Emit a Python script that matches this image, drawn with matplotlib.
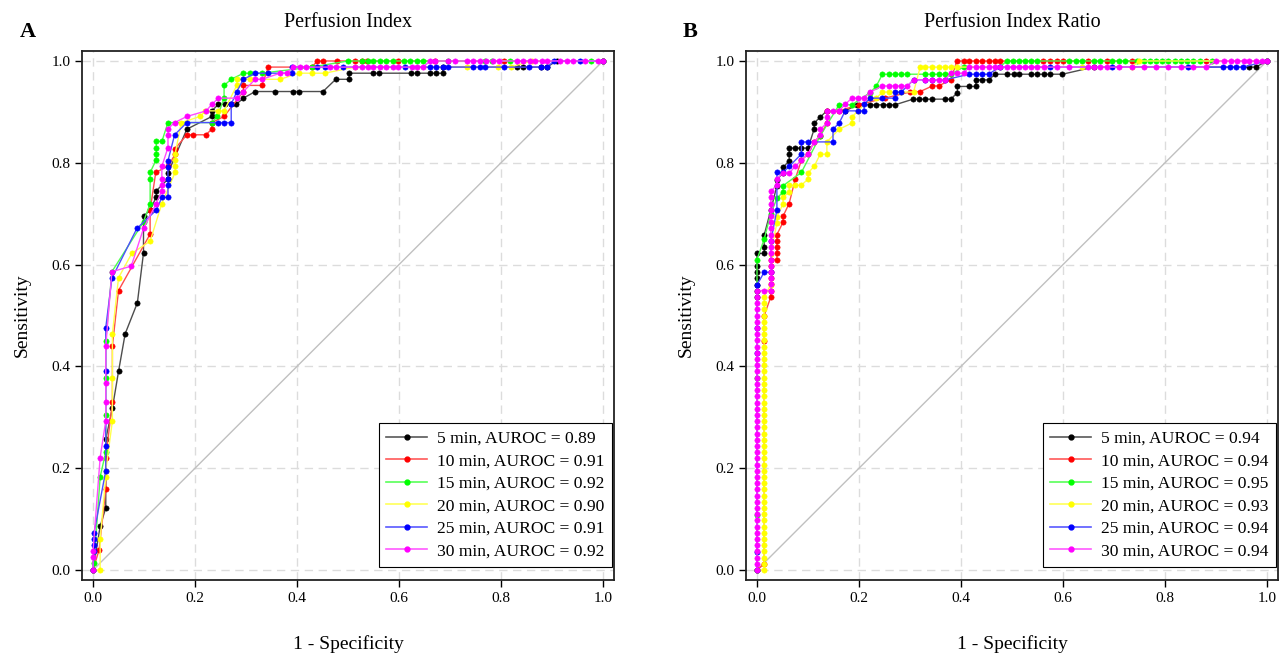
import matplotlib
matplotlib.use("Agg")
import matplotlib.pyplot as plt
from matplotlib.lines import Line2D
from matplotlib.colors import to_rgb

plt.rcParams['font.family'] = ['Liberation Serif', 'DejaVu Serif']

# ---------------- data: panel A (Perfusion Index) ----------------
a05 = [(0, 0), (0.014, 0.086), (0.025, 0.122), (0.025, 0.257), (0.038, 0.318), (0.05, 0.39), (0.063, 0.464),
       (0.087, 0.525), (0.099, 0.623), (0.099, 0.695), (0.112, 0.707), (0.124, 0.733), (0.124, 0.745),
       (0.147, 0.768), (0.147, 0.78), (0.184, 0.866), (0.233, 0.891), (0.233, 0.902), (0.246, 0.915),
       (0.258, 0.915), (0.27, 0.915), (0.281, 0.915), (0.295, 0.927), (0.318, 0.94), (0.356, 0.94),
       (0.392, 0.94), (0.403, 0.94), (0.451, 0.94), (0.476, 0.964), (0.502, 0.964), (0.502, 0.976),
       (0.55, 0.976), (0.561, 0.976), (0.624, 0.976), (0.635, 0.976), (0.661, 0.976), (0.672, 0.976),
       (0.686, 0.976), (0.686, 0.988), (0.831, 0.988), (0.843, 0.988), (0.879, 0.988), (0.89, 0.988),
       (0.909, 1.0), (1.0, 1.0)]
a10 = [(0, 0), (0.012, 0.04), (0.025, 0.159), (0.025, 0.22), (0.038, 0.33), (0.038, 0.44), (0.05, 0.549),
       (0.112, 0.66), (0.112, 0.707), (0.123, 0.781), (0.148, 0.794), (0.161, 0.817), (0.161, 0.828),
       (0.184, 0.855), (0.197, 0.855), (0.221, 0.855), (0.233, 0.866), (0.233, 0.879), (0.257, 0.891),
       (0.295, 0.94), (0.295, 0.952), (0.331, 0.952), (0.344, 0.988), (0.429, 0.988), (0.44, 1.0),
       (0.451, 1.0), (0.478, 1.0), (0.514, 1.0), (0.527, 1.0), (0.538, 1.0), (0.599, 1.0), (0.671, 1.0),
       (0.806, 1.0), (1.0, 1.0)]
a15 = [(0, 0), (0.002, 0.013), (0.014, 0.183), (0.025, 0.232), (0.025, 0.305), (0.025, 0.378), (0.025, 0.45),
       (0.037, 0.586), (0.099, 0.684), (0.112, 0.72), (0.112, 0.768), (0.112, 0.781), (0.124, 0.806),
       (0.124, 0.818), (0.124, 0.83), (0.124, 0.842), (0.135, 0.842), (0.147, 0.879), (0.233, 0.879),
       (0.244, 0.891), (0.257, 0.927), (0.257, 0.952), (0.271, 0.964), (0.295, 0.976), (0.307, 0.976),
       (0.331, 0.976), (0.429, 0.988), (0.5, 1.0), (0.527, 1.0), (0.539, 1.0), (0.55, 1.0), (0.562, 1.0),
       (0.575, 1.0), (0.588, 1.0), (0.609, 1.0), (0.622, 1.0), (0.635, 1.0), (0.647, 1.0), (0.697, 1.0),
       (0.769, 1.0), (0.782, 1.0), (0.818, 1.0), (0.976, 1.0), (1.0, 1.0)]
a20 = [(0, 0), (0.014, 0), (0.014, 0.06), (0.025, 0.183), (0.025, 0.195), (0.038, 0.293), (0.038, 0.378),
       (0.038, 0.464), (0.05, 0.574), (0.076, 0.622), (0.112, 0.646), (0.135, 0.72), (0.161, 0.781),
       (0.161, 0.793), (0.161, 0.806), (0.161, 0.817), (0.173, 0.879), (0.21, 0.891), (0.22, 0.902),
       (0.246, 0.902), (0.257, 0.902), (0.282, 0.952), (0.282, 0.964), (0.295, 0.964), (0.307, 0.964),
       (0.367, 0.964), (0.403, 0.976), (0.429, 0.976), (0.454, 0.976), (0.514, 0.988), (0.733, 0.988),
       (0.795, 0.988), (0.819, 0.988), (0.86, 1.0), (1.0, 1.0)]
a25 = [(0, 0), (0.002, 0.037), (0.002, 0.049), (0.002, 0.061), (0.002, 0.073), (0.025, 0.195), (0.025, 0.244),
       (0.025, 0.391), (0.025, 0.476), (0.037, 0.573), (0.086, 0.671), (0.124, 0.707), (0.135, 0.732),
       (0.147, 0.732), (0.147, 0.756), (0.147, 0.768), (0.147, 0.792), (0.147, 0.804), (0.16, 0.855),
       (0.184, 0.879), (0.246, 0.879), (0.257, 0.879), (0.271, 0.879), (0.271, 0.915), (0.282, 0.94),
       (0.295, 0.964), (0.318, 0.976), (0.344, 0.976), (0.391, 0.976), (0.391, 0.988), (0.44, 0.988),
       (0.454, 0.988), (0.49, 0.988), (0.612, 0.988), (0.661, 0.988), (0.673, 0.988), (0.686, 0.988),
       (0.697, 0.988), (0.746, 0.988), (0.758, 0.988), (0.769, 0.988), (0.806, 0.988), (0.855, 0.988),
       (0.879, 0.988), (0.891, 0.988), (0.904, 1.0), (0.954, 1.0), (1.0, 1.0)]
a30 = [(0, 0), (0, 0.025), (0, 0.037), (0.014, 0.221), (0.025, 0.293), (0.025, 0.33), (0.025, 0.367),
       (0.025, 0.44), (0.037, 0.586), (0.075, 0.597), (0.099, 0.671), (0.124, 0.72), (0.135, 0.745),
       (0.135, 0.756), (0.135, 0.768), (0.135, 0.793), (0.147, 0.83), (0.147, 0.855), (0.147, 0.867),
       (0.16, 0.879), (0.184, 0.891), (0.222, 0.902), (0.233, 0.915), (0.246, 0.927), (0.282, 0.927),
       (0.295, 0.94), (0.318, 0.964), (0.331, 0.964), (0.367, 0.976), (0.38, 0.976), (0.392, 0.988),
       (0.406, 0.988), (0.418, 0.988), (0.465, 0.988), (0.476, 0.988), (0.514, 0.988), (0.527, 0.988),
       (0.539, 0.988), (0.55, 0.988), (0.562, 0.988), (0.575, 0.988), (0.588, 0.988), (0.599, 0.988),
       (0.625, 0.988), (0.635, 0.988), (0.647, 0.988), (0.661, 1.0), (0.67, 1.0), (0.697, 1.0), (0.71, 1.0),
       (0.733, 1.0), (0.746, 1.0), (0.759, 1.0), (0.771, 1.0), (0.784, 1.0), (0.797, 1.0), (0.831, 1.0),
       (0.843, 1.0), (0.856, 1.0), (0.867, 1.0), (0.88, 1.0), (0.891, 1.0), (0.916, 1.0), (0.929, 1.0),
       (0.941, 1.0), (0.965, 1.0), (0.99, 1.0), (1.0, 1.0)]

# ---------------- data: panel B (Perfusion Index Ratio) ----------------
b05 = [(0, 0), (0, 0.537), (0, 0.549), (0, 0.56), (0, 0.573), (0, 0.585), (0, 0.597), (0, 0.622),
       (0.014, 0.622), (0.014, 0.634), (0.014, 0.658), (0.027, 0.707), (0.039, 0.755), (0.039, 0.767),
       (0.051, 0.78), (0.051, 0.791), (0.063, 0.804), (0.063, 0.817), (0.063, 0.829), (0.075, 0.829),
       (0.087, 0.829), (0.1, 0.829), (0.112, 0.866), (0.112, 0.878), (0.124, 0.89), (0.137, 0.902),
       (0.173, 0.902), (0.197, 0.914), (0.222, 0.914), (0.234, 0.914), (0.247, 0.914), (0.259, 0.914),
       (0.271, 0.914), (0.306, 0.925), (0.318, 0.925), (0.33, 0.925), (0.344, 0.925), (0.369, 0.925),
       (0.38, 0.925), (0.393, 0.938), (0.393, 0.95), (0.416, 0.95), (0.429, 0.95), (0.429, 0.963),
       (0.442, 0.963), (0.454, 0.963), (0.467, 0.974), (0.49, 0.974), (0.503, 0.974), (0.514, 0.974),
       (0.538, 0.974), (0.55, 0.974), (0.563, 0.974), (0.574, 0.974), (0.599, 0.974), (0.66, 0.988),
       (0.965, 0.988), (0.978, 0.988), (1.0, 1.0)]
b10 = [(0, 0), (0.014, 0.012), (0.014, 0.45), (0.014, 0.5), (0.027, 0.536), (0.027, 0.549), (0.027, 0.561),
       (0.027, 0.573), (0.027, 0.585), (0.027, 0.598), (0.027, 0.61), (0.039, 0.61), (0.039, 0.622),
       (0.039, 0.634), (0.039, 0.646), (0.039, 0.659), (0.051, 0.683), (0.051, 0.695), (0.063, 0.72),
       (0.075, 0.768), (0.087, 0.805), (0.1, 0.817), (0.112, 0.841), (0.124, 0.853), (0.137, 0.878),
       (0.137, 0.902), (0.161, 0.902), (0.2, 0.914), (0.25, 0.927), (0.3, 0.939), (0.32, 0.94),
       (0.344, 0.951), (0.356, 0.951), (0.38, 0.963), (0.392, 1.0), (0.405, 1.0), (0.416, 1.0), (0.429, 1.0),
       (0.442, 1.0), (0.454, 1.0), (0.467, 1.0), (0.476, 1.0), (0.561, 1.0), (0.574, 1.0), (0.588, 1.0),
       (0.6, 1.0), (0.65, 1.0), (0.686, 1.0), (0.735, 1.0), (0.88, 1.0), (1.0, 1.0)]
b15 = [(0, 0), (0, 0.108), (0, 0.377), (0, 0.61), (0.014, 0.65), (0.027, 0.7), (0.039, 0.73), (0.051, 0.743),
       (0.051, 0.755), (0.087, 0.781), (0.124, 0.853), (0.161, 0.914), (0.186, 0.914), (0.222, 0.938),
       (0.234, 0.951), (0.246, 0.974), (0.259, 0.974), (0.271, 0.974), (0.283, 0.974), (0.295, 0.974),
       (0.33, 0.974), (0.344, 0.974), (0.356, 0.974), (0.369, 0.974), (0.38, 0.974), (0.405, 0.988),
       (0.476, 0.988), (0.49, 1.0), (0.501, 1.0), (0.514, 1.0), (0.525, 1.0), (0.538, 1.0), (0.55, 1.0),
       (0.612, 1.0), (0.625, 1.0), (0.637, 1.0), (0.661, 1.0), (0.672, 1.0), (0.697, 1.0), (0.71, 1.0),
       (0.721, 1.0), (0.746, 1.0), (0.759, 1.0), (0.77, 1.0), (0.782, 1.0), (0.795, 1.0), (0.806, 1.0),
       (0.82, 1.0), (0.831, 1.0), (0.844, 1.0), (0.855, 1.0), (0.868, 1.0), (0.893, 1.0), (1.0, 1.0)]
b20 = [(0, 0), (0.014, 0), (0.014, 0.012), (0.014, 0.024), (0.014, 0.037), (0.014, 0.049), (0.014, 0.061),
       (0.014, 0.073), (0.014, 0.085), (0.014, 0.098), (0.014, 0.11), (0.014, 0.122), (0.014, 0.134),
       (0.014, 0.146), (0.014, 0.159), (0.014, 0.171), (0.014, 0.183), (0.014, 0.195), (0.014, 0.207),
       (0.014, 0.22), (0.014, 0.232), (0.014, 0.244), (0.014, 0.256), (0.014, 0.268), (0.014, 0.28),
       (0.014, 0.293), (0.014, 0.305), (0.014, 0.317), (0.014, 0.329), (0.014, 0.341), (0.014, 0.354),
       (0.014, 0.366), (0.014, 0.378), (0.014, 0.39), (0.014, 0.402), (0.014, 0.415), (0.014, 0.427),
       (0.014, 0.439), (0.014, 0.451), (0.014, 0.463), (0.014, 0.476), (0.014, 0.488), (0.014, 0.5),
       (0.014, 0.512), (0.014, 0.524), (0.014, 0.537), (0.027, 0.56), (0.027, 0.62), (0.039, 0.682),
       (0.039, 0.694), (0.051, 0.719), (0.051, 0.732), (0.063, 0.743), (0.063, 0.756), (0.075, 0.756),
       (0.087, 0.756), (0.1, 0.768), (0.1, 0.78), (0.112, 0.793), (0.124, 0.817), (0.137, 0.817),
       (0.137, 0.841), (0.161, 0.866), (0.186, 0.878), (0.186, 0.89), (0.198, 0.902), (0.222, 0.927),
       (0.234, 0.927), (0.246, 0.939), (0.259, 0.939), (0.283, 0.939), (0.307, 0.939), (0.32, 0.988),
       (0.33, 0.988), (0.344, 0.988), (0.356, 0.988), (0.369, 0.988), (0.38, 0.988), (0.392, 0.988),
       (0.637, 0.988), (0.735, 0.988), (0.75, 1.0), (1.0, 1.0)]
b25 = [(0, 0), (0, 0.036), (0, 0.426), (0, 0.475), (0, 0.56), (0.014, 0.585), (0.027, 0.585), (0.027, 0.646),
       (0.039, 0.707), (0.039, 0.781), (0.051, 0.781), (0.063, 0.793), (0.087, 0.817), (0.087, 0.841),
       (0.1, 0.841), (0.149, 0.841), (0.149, 0.866), (0.161, 0.878), (0.173, 0.902), (0.198, 0.902),
       (0.21, 0.902), (0.21, 0.915), (0.222, 0.927), (0.246, 0.927), (0.271, 0.927), (0.271, 0.939),
       (0.283, 0.939), (0.307, 0.963), (0.33, 0.963), (0.344, 0.963), (0.369, 0.963), (0.416, 0.974),
       (0.429, 0.974), (0.442, 0.974), (0.454, 0.974), (0.476, 0.988), (0.574, 0.988), (0.697, 0.988),
       (0.845, 0.988), (0.914, 0.988), (0.927, 0.988), (0.94, 0.988), (0.953, 0.988), (1.0, 1.0)]
b30 = [(0, 0), (0, 0.012), (0, 0.024), (0, 0.037), (0, 0.049), (0, 0.061), (0, 0.073), (0, 0.085), (0, 0.098),
       (0, 0.11), (0, 0.122), (0, 0.134), (0, 0.146), (0, 0.159), (0, 0.171), (0, 0.183), (0, 0.195),
       (0, 0.207), (0, 0.22), (0, 0.232), (0, 0.244), (0, 0.256), (0, 0.268), (0, 0.28), (0, 0.293),
       (0, 0.305), (0, 0.317), (0, 0.329), (0, 0.341), (0, 0.354), (0, 0.366), (0, 0.378), (0, 0.39),
       (0, 0.402), (0, 0.415), (0, 0.427), (0, 0.439), (0, 0.451), (0, 0.463), (0, 0.476), (0, 0.488),
       (0, 0.5), (0, 0.512), (0, 0.524), (0, 0.537), (0, 0.549), (0.014, 0.549), (0.027, 0.549),
       (0.027, 0.561), (0.027, 0.573), (0.027, 0.585), (0.027, 0.598), (0.027, 0.61), (0.027, 0.622),
       (0.027, 0.634), (0.027, 0.646), (0.027, 0.659), (0.027, 0.671), (0.027, 0.683), (0.027, 0.695),
       (0.027, 0.707), (0.027, 0.72), (0.027, 0.732), (0.027, 0.744), (0.039, 0.756), (0.039, 0.768),
       (0.051, 0.78), (0.063, 0.78), (0.075, 0.793), (0.087, 0.805), (0.1, 0.817), (0.112, 0.841),
       (0.124, 0.854), (0.124, 0.866), (0.137, 0.878), (0.137, 0.89), (0.137, 0.902), (0.149, 0.902),
       (0.161, 0.902), (0.173, 0.915), (0.186, 0.927), (0.198, 0.927), (0.21, 0.927), (0.222, 0.939),
       (0.246, 0.951), (0.259, 0.951), (0.271, 0.951), (0.283, 0.951), (0.295, 0.951), (0.307, 0.963),
       (0.33, 0.963), (0.344, 0.963), (0.356, 0.963), (0.369, 0.963), (0.38, 0.976), (0.392, 0.976),
       (0.405, 0.976), (0.416, 0.988), (0.429, 0.988), (0.442, 0.988), (0.454, 0.988), (0.467, 0.988),
       (0.477, 0.988), (0.49, 0.988), (0.501, 0.988), (0.514, 0.988), (0.525, 0.988), (0.538, 0.988),
       (0.55, 0.988), (0.563, 0.988), (0.588, 0.988), (0.612, 0.988), (0.65, 0.988), (0.661, 0.988),
       (0.672, 0.988), (0.686, 0.988), (0.71, 0.988), (0.735, 0.988), (0.759, 0.988), (0.782, 0.988),
       (0.806, 0.988), (0.831, 0.988), (0.855, 0.988), (0.88, 0.988), (0.901, 1.0), (0.916, 1.0),
       (0.93, 1.0), (0.942, 1.0), (0.954, 1.0), (0.965, 1.0), (0.978, 1.0), (0.99, 1.0), (1.0, 1.0)]

times = ["5 min", "10 min", "15 min", "20 min", "25 min", "30 min"]
auroc_a = ["0.89", "0.91", "0.92", "0.90", "0.91", "0.92"]
auroc_b = ["0.94", "0.94", "0.95", "0.93", "0.94", "0.94"]
colors = ["#000000", "#FF0000", "#00FF00", "#FFFF00", "#0000FF", "#FF00FF"]
titles = ["Perfusion Index", "Perfusion Index Ratio"]
panel_letters = ["A", "B"]
ticks = [0.0, 0.2, 0.4, 0.6, 0.8, 1.0]
tick_labels = ["0.0", "0.2", "0.4", "0.6", "0.8", "1.0"]

series_a = [a05, a10, a15, a20, a25, a30]
series_b = [b05, b10, b15, b20, b25, b30]


def lighten(c, f=0.35):
    r, g, b = to_rgb(c)
    return (r + (1 - r) * f, g + (1 - g) * f, b + (1 - b) * f)


W, H = 1280, 657
fig = plt.figure(figsize=(W / 100, H / 100), dpi=100)

axes_px = [(82, 51, 614, 580), (746, 51, 1278, 580)]
letter_px = [(20, 32), (683, 32)]

for k, (series, aurocs) in enumerate([(series_a, auroc_a), (series_b, auroc_b)]):
    l, t, r, b = axes_px[k]
    ax = fig.add_axes([l / W, 1 - b / H, (r - l) / W, (b - t) / H])
    ax.set_xlim(-0.0216, 1.0216)
    ax.set_ylim(-0.0196, 1.0196)
    ax.grid(True, color="#DCDCDC", linestyle=(0, (6, 4)), linewidth=1.0, zorder=0)
    ax.set_axisbelow(True)
    ax.plot([0, 1], [0, 1], color="#C0C0C0", lw=1.0, zorder=1)
    handles = []
    for s, c, tm, au in zip(series, colors, times, aurocs):
        xs = [p[0] for p in s]
        ys = [p[1] for p in s]
        ax.plot(xs, ys, color=lighten(c, 0.3), lw=1.0, marker="o", ms=3.8,
                mfc=c, mec=c, mew=0.4, zorder=3)
        handles.append(Line2D([0], [0], color=lighten(c, 0.35), lw=1.2, marker="o", ms=3.5,
                              mfc=c, mec=c, label=f"{tm}, AUROC = {au}"))
    ax.set_xticks(ticks)
    ax.set_xticklabels(tick_labels)
    ax.set_yticks(ticks)
    ax.set_yticklabels(tick_labels)
    ax.tick_params(direction="out", length=5, width=1.0, labelsize=11, colors="black")
    for sp in ax.spines.values():
        sp.set_linewidth(1.3)
        sp.set_color("#222222")
    ax.set_title(titles[k], fontsize=14.5, pad=17)
    ax.set_xlabel("1 - Specificity", fontsize=14, labelpad=22)
    ax.set_ylabel("Sensitivity", fontsize=14, labelpad=15)
    leg = ax.legend(handles=handles, loc="lower right", bbox_to_anchor=(0.997, 0.024),
                    fontsize=12.6, frameon=True, fancybox=False,
                    edgecolor="black", framealpha=1, handlelength=2.3, handletextpad=0.6,
                    labelspacing=0.36, borderpad=0.45, borderaxespad=0.0)
    leg.get_frame().set_linewidth(0.8)
    fig.text(letter_px[k][0] / W, 1 - letter_px[k][1] / H, panel_letters[k], fontsize=16,
             fontweight="bold", ha="left", va="center")

fig.savefig("out.png", dpi=100)
